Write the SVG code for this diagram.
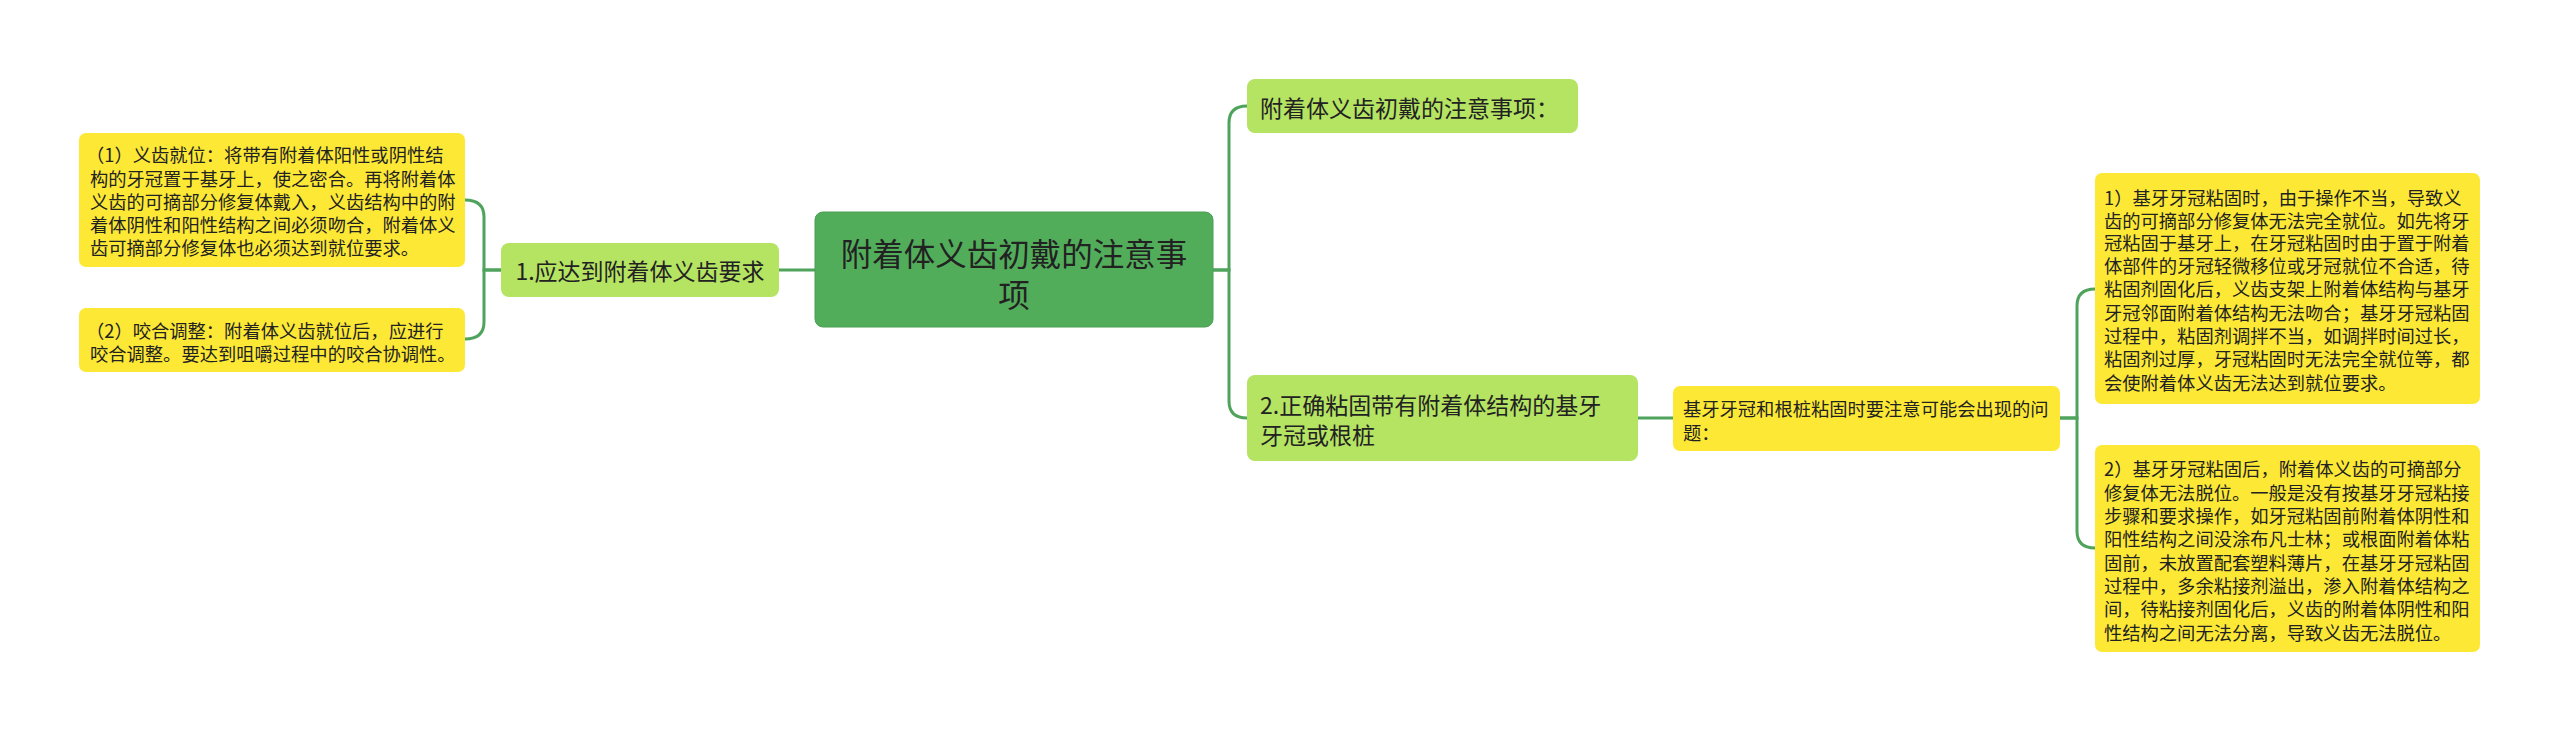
<svg xmlns="http://www.w3.org/2000/svg" width="2560" height="731" viewBox="0 0 2560 731">
<style>
text{font-family:"Noto Sans CJK SC","Noto Sans",sans-serif;fill:#222;dominant-baseline:central}
.root rect{fill:#52ad5b;stroke:#4a9e52;stroke-width:1}
.l1 rect{fill:#b5e362}
.leaf rect{fill:#fde935}
.conn path{fill:none;stroke:#4fa35c;stroke-width:3}
.rt{font-size:31.5px}
.t1{font-size:23px}
.t2{font-size:18.3px}
</style>
<rect width="2560" height="731" fill="#ffffff"/>
<g class="conn" id="connectors">
<path d="M1213,270 H1229 V123 Q1229,106 1247,106"/>
<path d="M1213,270 H1229 V401 Q1229,418 1247,418"/>
<path d="M815,270 H779"/>
<path d="M501,270 H484 V217 Q484,200 465,200"/>
<path d="M501,270 H484 V322 Q484,339 465,339"/>
<path d="M1638,418 H1673"/>
<path d="M2060,418 H2077 V306 Q2077,289 2095,289"/>
<path d="M2060,418 H2077 V531 Q2077,548 2095,548"/>
</g>
<g class="root" id="root">
<rect x="815" y="212" width="398" height="115" rx="8"/>
<text class="rt" x="1014" y="252" text-anchor="middle">附着体义齿初戴的注意事</text>
<text class="rt" x="1014" y="293" text-anchor="middle">项</text>
</g>
<g class="l1" id="n-left1">
<rect x="501" y="243" width="278" height="54" rx="8"/>
<text class="t1" x="640" y="270" text-anchor="middle">1.应达到附着体义齿要求</text>
</g>
<g class="leaf" id="n-left-leaf1">
<rect x="79" y="133" width="386" height="134" rx="7"/>
<text class="t2" x="90"><tspan x="86" y="154">（1）义齿就位：将带有附着体阳性或阴性结</tspan><tspan x="90" y="178">构的牙冠置于基牙上，使之密合。再将附着体</tspan><tspan x="90" y="201">义齿的可摘部分修复体戴入，义齿结构中的附</tspan><tspan x="90" y="224">着体阴性和阳性结构之间必须吻合，附着体义</tspan><tspan x="90" y="247">齿可摘部分修复体也必须达到就位要求。</tspan></text>
</g>
<g class="leaf" id="n-left-leaf2">
<rect x="79" y="308" width="386" height="64" rx="7"/>
<text class="t2"><tspan x="86" y="330">（2）咬合调整：附着体义齿就位后，应进行</tspan><tspan x="90" y="353">咬合调整。要达到咀嚼过程中的咬合协调性。</tspan></text>
</g>
<g class="l1" id="n-right1">
<rect x="1247" y="79" width="331" height="54" rx="8"/>
<text class="t1" x="1260" y="107">附着体义齿初戴的注意事项：</text>
</g>
<g class="l1" id="n-right2">
<rect x="1247" y="375" width="391" height="86" rx="8"/>
<text class="t1"><tspan x="1260" y="404">2.正确粘固带有附着体结构的基牙</tspan><tspan x="1260" y="434">牙冠或根桩</tspan></text>
</g>
<g class="leaf" id="n-mid">
<rect x="1673" y="386" width="387" height="65" rx="7"/>
<text class="t2"><tspan x="1683" y="408">基牙牙冠和根桩粘固时要注意可能会出现的问</tspan><tspan x="1683" y="432">题：</tspan></text>
</g>
<g class="leaf" id="n-right-leaf1">
<rect x="2095" y="173" width="385" height="231" rx="7"/>
<text class="t2"><tspan x="2104" y="197">1）基牙牙冠粘固时，由于操作不当，导致义</tspan><tspan x="2104" y="220">齿的可摘部分修复体无法完全就位。如先将牙</tspan><tspan x="2104" y="242">冠粘固于基牙上，在牙冠粘固时由于置于附着</tspan><tspan x="2104" y="265">体部件的牙冠轻微移位或牙冠就位不合适，待</tspan><tspan x="2104" y="288">粘固剂固化后，义齿支架上附着体结构与基牙</tspan><tspan x="2104" y="312">牙冠邻面附着体结构无法吻合；基牙牙冠粘固</tspan><tspan x="2104" y="335">过程中，粘固剂调拌不当，如调拌时间过长，</tspan><tspan x="2104" y="358">粘固剂过厚，牙冠粘固时无法完全就位等，都</tspan><tspan x="2104" y="382">会使附着体义齿无法达到就位要求。</tspan></text>
</g>
<g class="leaf" id="n-right-leaf2">
<rect x="2095" y="445" width="385" height="207" rx="7"/>
<text class="t2"><tspan x="2104" y="468">2）基牙牙冠粘固后，附着体义齿的可摘部分</tspan><tspan x="2104" y="492">修复体无法脱位。一般是没有按基牙牙冠粘接</tspan><tspan x="2104" y="515">步骤和要求操作，如牙冠粘固前附着体阴性和</tspan><tspan x="2104" y="538">阳性结构之间没涂布凡士林；或根面附着体粘</tspan><tspan x="2104" y="562">固前，未放置配套塑料薄片，在基牙牙冠粘固</tspan><tspan x="2104" y="585">过程中，多余粘接剂溢出，渗入附着体结构之</tspan><tspan x="2104" y="608">间，待粘接剂固化后，义齿的附着体阴性和阳</tspan><tspan x="2104" y="632">性结构之间无法分离，导致义齿无法脱位。</tspan></text>
</g>
</svg>
